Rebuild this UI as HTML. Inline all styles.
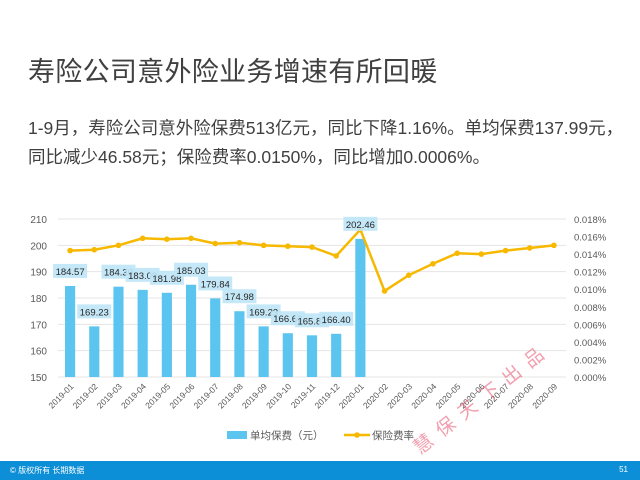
<!DOCTYPE html>
<html><head><meta charset="utf-8">
<style>
body{margin:0;width:640px;height:480px;overflow:hidden;background:#fff;font-family:"Liberation Sans","Noto Sans CJK SC",sans-serif;position:relative}
#title{position:absolute;left:28px;top:50px;font-size:27px;color:#404040;white-space:nowrap;letter-spacing:0.3px}
.p{position:absolute;left:28px;font-size:17.5px;color:#404040;white-space:nowrap}
#footer{position:absolute;left:0;top:461px;width:640px;height:19px;background:#0c8fd6;color:#fff;font-size:8px}
</style></head><body>
<div id="title">寿险公司意外险业务增速有所回暖</div>
<div class="p" style="top:115px">1-9月，寿险公司意外险保费513亿元，同比下降1.16%。单均保费137.99元，</div>
<div class="p" style="top:144px">同比减少46.58元；保险费率0.0150%，同比增加0.0006%。</div>
<svg id="chart" width="640" height="480" style="position:absolute;left:0;top:0"></svg>
<div id="footer"><span style="position:absolute;left:10px;top:4px">© 版权所有 长期数据</span><span style="position:absolute;right:12px;top:4px">51</span></div>
<script>
const categories=["2019-01","2019-02","2019-03","2019-04","2019-05","2019-06","2019-07","2019-08","2019-09","2019-10","2019-11","2019-12","2020-01","2020-02","2020-03","2020-04","2020-05","2020-06","2020-07","2020-08","2020-09"];
const barValues=[184.57,169.23,184.30,183.09,181.98,185.03,179.84,174.98,169.23,166.63,165.83,166.40,202.46];
const rateValues=[0.0144,0.0145,0.0150,0.0158,0.0157,0.0158,0.0152,0.0153,0.0150,0.0149,0.0148,0.0138,0.0168,0.0098,0.0116,0.0129,0.0141,0.0140,0.0144,0.0147,0.0150];
const leftTicks=[150,160,170,180,190,200,210];
const rightTicks=[0,0.002,0.004,0.006,0.008,0.010,0.012,0.014,0.016,0.018];
const NS="http://www.w3.org/2000/svg";
const svg=document.getElementById('chart');
const L=58,R=566,T=219,B=377,band=(R-L)/categories.length;
const xc=i=>L+band*(i+0.5);
const yl=v=>B-(v-150)/60*(B-T);
const yr=v=>B-v/0.018*(B-T);
function mk(t,a,txt){const e=document.createElementNS(NS,t);for(const k in a)e.setAttribute(k,a[k]);if(txt!==undefined)e.textContent=txt;svg.appendChild(e);return e;}
leftTicks.forEach(v=>{
 const g=mk('line',{x1:L,x2:R,y1:yl(v),y2:yl(v),stroke:'#e4e4e4','stroke-width':1});
 
 
 const t=mk('text',{x:47,y:yl(v)+4,'text-anchor':'end','font-size':10,fill:'#595959'},String(v));
 
 
});
rightTicks.forEach(v=>{
 const t=mk('text',{x:574,y:yr(v)+4,'font-size':9.5,fill:'#595959'},v.toFixed(3)+'%');
 
 
});
categories.forEach((c,i)=>{
 const x=xc(i);
 const t=mk('text',{x:x+4,y:B+10,'text-anchor':'end','font-size':8.5,fill:'#595959',transform:`rotate(-45 ${x+4} ${B+10})`},c);
 
 
});
const bw=band*0.42;
barValues.forEach((v,i)=>{
 const b=mk('rect',{x:xc(i)-bw/2,y:yl(v),width:bw,height:B-yl(v),fill:'#5bc5ef'});
 
 
});
let pts=rateValues.map((v,i)=>xc(i)+','+yr(v)).join(' ');
const pl=mk('polyline',{points:pts,fill:'none',stroke:'#f7b800','stroke-width':2.5});


rateValues.forEach((v,i)=>{
 const c=mk('circle',{cx:xc(i),cy:yr(v),r:2.8,fill:'#f7b800'});
 
 
});
barValues.forEach((v,i)=>{
 const y=yl(v)-13;
 const r=mk('rect',{x:xc(i)-17,y:y-9,width:34,height:14,fill:'#bfe6f7',opacity:0.9});
 
 
 const t=mk('text',{x:xc(i),y:y+2,'text-anchor':'middle','font-size':9.5,fill:'#262626'},v.toFixed(2));
 
 
});
const lg1=mk('rect',{x:227,y:431,width:20,height:8,fill:'#5bc5ef'});


const lt1=mk('text',{x:250,y:439,'font-size':10.5,fill:'#595959'},'单均保费（元）');


const lg2=mk('line',{x1:344,x2:370,y1:435,y2:435,stroke:'#f7b800','stroke-width':2.5});


const lc=mk('circle',{cx:357,cy:435,r:2.8,fill:'#f7b800'});


const lt2=mk('text',{x:372,y:439,'font-size':10.5,fill:'#595959'},'保险费率');


const wm=mk('text',{x:420,y:455,'font-size':19,fill:'#e8607a',opacity:0.6,'letter-spacing':'9',transform:'rotate(-38 420 455)'},'慧保天下出品');


</script>
</body></html>
